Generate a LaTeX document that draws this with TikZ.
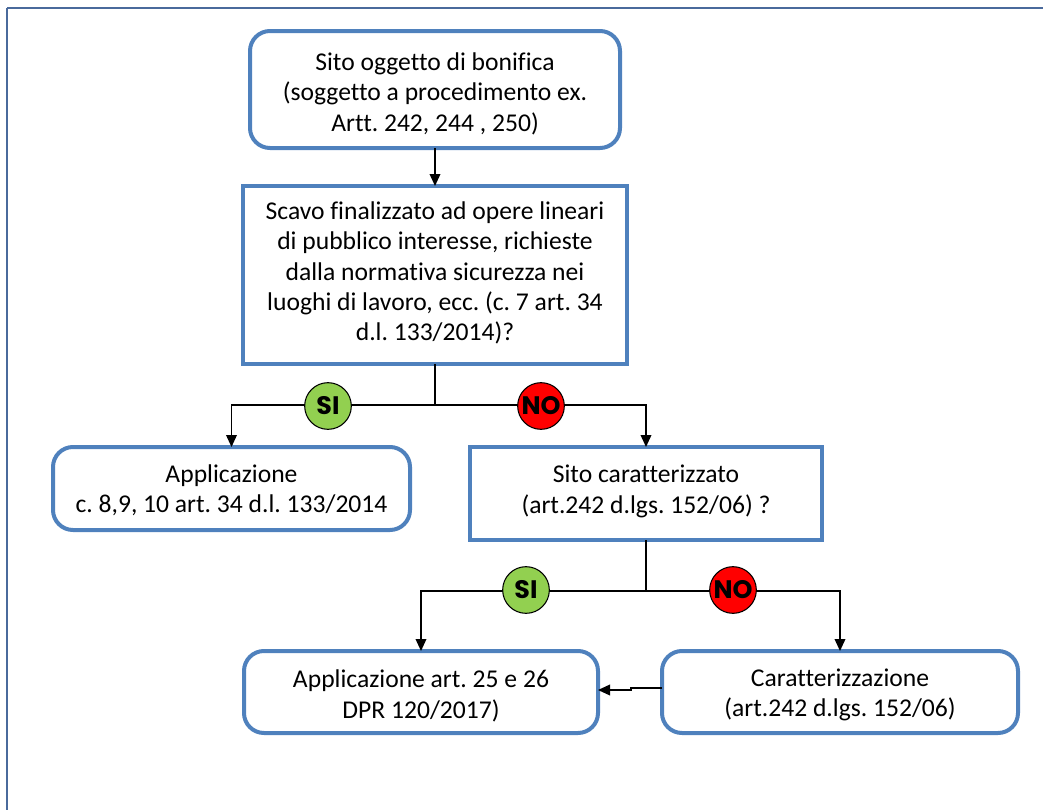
\documentclass[tikz,border=0pt]{standalone}
\usepackage{fontspec}
\setmainfont[Ligatures=NoCommon]{Carlito}
\newfontfamily\badgefont{Poppins}
\usetikzlibrary{arrows.meta,positioning}
\definecolor{boxblue}{HTML}{4F81BD}
\definecolor{framecol}{HTML}{4A6A9C}
\definecolor{sigreen}{HTML}{92D050}
\definecolor{nored}{HTML}{FF0000}
\frenchspacing
\tikzset{
  txt/.style={font=\fontsize{19.2}{22.8}\selectfont, align=center, text=black, inner sep=0pt},
  roundbox/.style={draw=boxblue, line width=3pt, rounded corners=15pt, inner sep=0pt, outer sep=0pt},
  squarebox/.style={draw=boxblue, line width=3pt, inner sep=0pt, outer sep=0pt},
  conn/.style={draw=black, line width=1.1pt},
  arr/.style={conn, -{Triangle[length=9pt,width=8pt]}},
  badge/.style={circle, draw=black, line width=0.8pt, minimum size=35pt, inner sep=0pt, font=\badgefont\bfseries\fontsize{19}{19}\selectfont},
}
\begin{document}
\begin{tikzpicture}[x=0.75pt,y=-0.75pt]
\useasboundingbox (0,0) rectangle (1043,810);
\draw[framecol, line width=1.5pt] (7,8) -- (1060,8);
\draw[framecol, line width=1.5pt] (7,8) -- (7,830);

\node[roundbox, minimum width=277.5pt, minimum height=87.75pt] (b1) at (435,89.5) {};
\node[squarebox, minimum width=288pt, minimum height=133.5pt] (b2) at (435,275) {};
\node[roundbox, minimum width=267.75pt, minimum height=62.25pt] (b3) at (231.5,488.5) {};
\node[squarebox, minimum width=264pt, minimum height=69.75pt] (b4) at (646,493.5) {};
\node[roundbox, minimum width=265.5pt, minimum height=61.5pt] (b5) at (421,692) {};
\node[roundbox, minimum width=267pt, minimum height=61.5pt] (b6) at (840,692) {};

\node[txt] (t1) at ([yshift=-3pt]b1.center)
  {Sito oggetto di bonifica\\(soggetto a procedimento ex.\\Artt. 242, 244 , 250)};
\node[txt] (t2) at ([yshift=1.5pt]b2.center)
  {Scavo finalizzato ad opere lineari\\di pubblico interesse, richieste\\dalla normativa sicurezza nei\\luoghi di lavoro, ecc. (c. 7 art. 34\\d.l. 133/2014)?};
\node[txt] (t3) at ([yshift=-1.5pt]b3.center)
  {Applicazione\\c. 8,9, 10 art. 34 d.l. 133/2014};
\node[txt] (t4) at ([yshift=1.5pt]b4.center)
  {Sito caratterizzato\\(art.242 d.lgs. 152/06) ?};
\node[txt] (t5) at ([yshift=-3pt]b5.center)
  {Applicazione art. 25 e 26\\DPR 120/2017)};
\node[txt] (t6) at ([yshift=-2.25pt]b6.center)
  {Caratterizzazione\\(art.242 d.lgs. 152/06)};

\draw[arr] (b1) -- (b2);
\coordinate (j1) at (435,405);
\coordinate (j2) at (646,591);
\draw[conn] (b2.south) -- (j1);
\draw[arr] (j1) -| (b3.north);
\draw[arr] (j1) -| (b4.north);
\draw[conn] (b4.south) -- (j2);
\draw[arr] (j2) -| (b5.north);
\draw[arr] (j2) -| (b6.north);
\draw[arr] ([yshift=3pt]b6.west) -- ++(-31,0) -- ++(0,2) -- ([yshift=1.5pt]b5.east);

\node[badge, fill=sigreen] (si1) at (328,406) {SI};
\node[badge, fill=nored] (no1) at (541,406) {NO};
\node[badge, fill=sigreen] (si2) at (526,590) {SI};
\node[badge, fill=nored] (no2) at (733,590) {NO};
\end{tikzpicture}
\end{document}
